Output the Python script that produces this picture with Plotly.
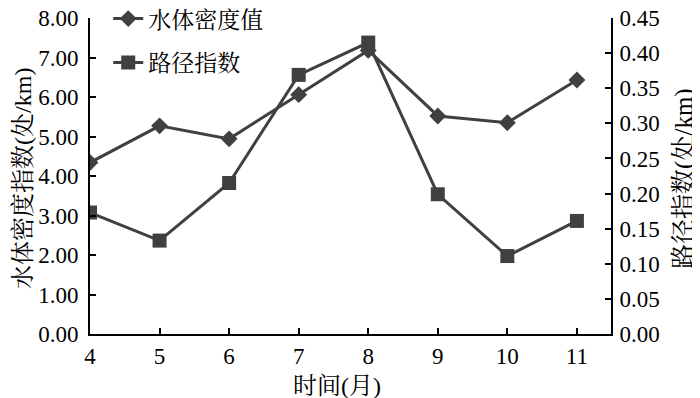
import plotly.graph_objects as go

months = [4, 5, 6, 7, 8, 9, 10, 11]
water_density = [4.34, 5.27, 4.94, 6.06, 7.18, 5.52, 5.35, 6.43]
path_index = [0.173, 0.133, 0.215, 0.369, 0.415, 0.199, 0.111, 0.161]

x_title = "时间(月)"
y_title = "水体密度指数(处/km)"
y2_title = "路径指数(处/km)"

FONT = "Liberation Serif, Times New Roman, Noto Serif CJK SC, Noto Sans CJK SC, serif"
C = "#404040"

fig = go.Figure()
fig.add_trace(go.Scatter(
    x=months, y=water_density, name="水体密度值", mode="lines+markers",
    legendgroup="a",
    line=dict(color=C, width=3),
    marker=dict(symbol="diamond", size=13, color=C),
))
fig.add_trace(go.Scatter(
    x=months, y=path_index, name="路径指数", mode="lines+markers", yaxis="y2",
    legendgroup="b",
    line=dict(color=C, width=3),
    marker=dict(symbol="square", size=14, color=C),
))

axis_common = dict(
    showgrid=False, zeroline=False, showline=True, linecolor="black", linewidth=2,
    ticks="inside", ticklen=6, tickwidth=1.5, tickcolor="black",
    tickfont=dict(family=FONT, size=23, color="black"),
    automargin=False, ticklabeloverflow="allow",
)

title_font = dict(family=FONT, size=24, color="black")

fig.update_layout(
    width=692, height=390,
    margin=dict(l=82, r=89, t=10, b=64, autoexpand=False),
    paper_bgcolor="white", plot_bgcolor="white",
    font=dict(family=FONT, size=20, color="black"),
    showlegend=True,
    legend=dict(x=0.035, y=1.066, xanchor="left", yanchor="top",
                bgcolor="rgba(0,0,0,0)", font=dict(family=FONT, size=23),
                tracegroupgap=11, traceorder="grouped"),
    xaxis=dict(range=[4, 11.49], tickvals=months, ticktext=[str(m) for m in months],
               **axis_common),
    yaxis=dict(range=[0, 8], dtick=1, tickformat=".2f", ticklabelstandoff=5,
               **axis_common),
    yaxis2=dict(range=[0, 0.45], dtick=0.05, tickformat=".2f", overlaying="y", side="right",
                ticklabelstandoff=2, **axis_common),
    annotations=[
        dict(text=y_title, xref="paper", yref="paper", x=-0.1574, y=0.494,
             xanchor="left", yanchor="middle", textangle=-90, showarrow=False,
             font=title_font),
        dict(text=y2_title, xref="paper", yref="paper", x=1.1708, y=0.494,
             xanchor="right", yanchor="middle", textangle=-90, showarrow=False,
             font=dict(family=FONT, size=25, color="black")),
        dict(text=x_title, xref="paper", yref="paper", x=0.474, y=-0.1646,
             xanchor="center", yanchor="middle", showarrow=False,
             font=dict(family=FONT, size=24, color="black")),
    ],
)

fig.write_html("out.html")
